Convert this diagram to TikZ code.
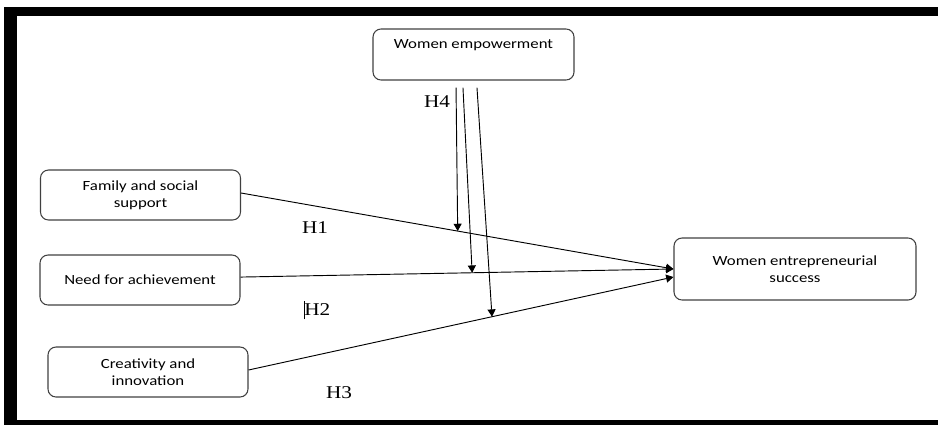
\documentclass[tikz,border=0pt]{standalone}
\usepackage{fontspec}
\setmainfont{Liberation Serif}[FakeStretch=1.18]
\newfontfamily\boxfont{Carlito}[FakeStretch=1.2]
\usetikzlibrary{arrows.meta}

\begin{document}
\begin{tikzpicture}[x=0.75pt,y=-0.75pt,>={Triangle[length=5.5pt,width=6pt]},
  box/.style={draw=black!75,line width=0.8pt,rounded corners=6pt,align=center,
    minimum width=150pt,minimum height=37.5pt,inner sep=2pt,font=\boxfont\fontsize{10.5}{13}\selectfont},
  hyp/.style={font=\fontsize{13.5}{15}\selectfont,inner sep=0pt},
  link/.style={->,line width=0.7pt}]

\useasboundingbox (0,0) rectangle (938,425);

% Frame
\fill[black] (4,7) rectangle (938,16);
\fill[black] (4,7) rectangle (17,425);
\fill[black] (4,420) rectangle (938,425);

% Boxes
\node[box,minimum width=150.75pt,minimum height=38.25pt] (emp) at (473.5,54.5) {Women empowerment\\[2pt]~};
\node[box] (fam) at (140.5,195) {Family and social\\support};
\node[box] (need) at (140,280) {Need for achievement};
\node[box] (crea) at (148,372) {Creativity and\\innovation};
\node[box,minimum width=181.5pt,minimum height=46.5pt] (succ) at (795,269) {Women entrepreneurial\\success};

% Direct effects
\draw[link] ([yshift=1.5pt]fam.east) -- coordinate[pos=0.501] (t1) (succ.west);
\draw[link] ([yshift=2.2pt]need.east) -- coordinate[pos=0.535] (t2) (succ.west);
\draw[link] ([yshift=1.5pt]crea.east) -- coordinate[pos=0.573] (t3) ([yshift=-6pt]succ.west);

% Moderation
\coordinate (m1) at ([xshift=-13.1pt,yshift=-5.25pt]emp.south);
\coordinate (m2) at ([xshift=-7.9pt,yshift=-5.25pt]emp.south);
\coordinate (m3) at ([xshift=2.6pt,yshift=-5.25pt]emp.south);
\draw[link] (m1) -- (t1);
\draw[link] (m2) -- (t2);
\draw[link] (m3) -- (t3);

% Labels
\node[hyp] (h4) at (437,102) {H4};
\node[hyp] (h1) at (315,228) {H1};
\node[hyp] (h2) at (317,310) {\rule[-3pt]{0.5pt}{14pt}H2};
\node[hyp] (h3) at (339,393) {H3};

\end{tikzpicture}
\end{document}
